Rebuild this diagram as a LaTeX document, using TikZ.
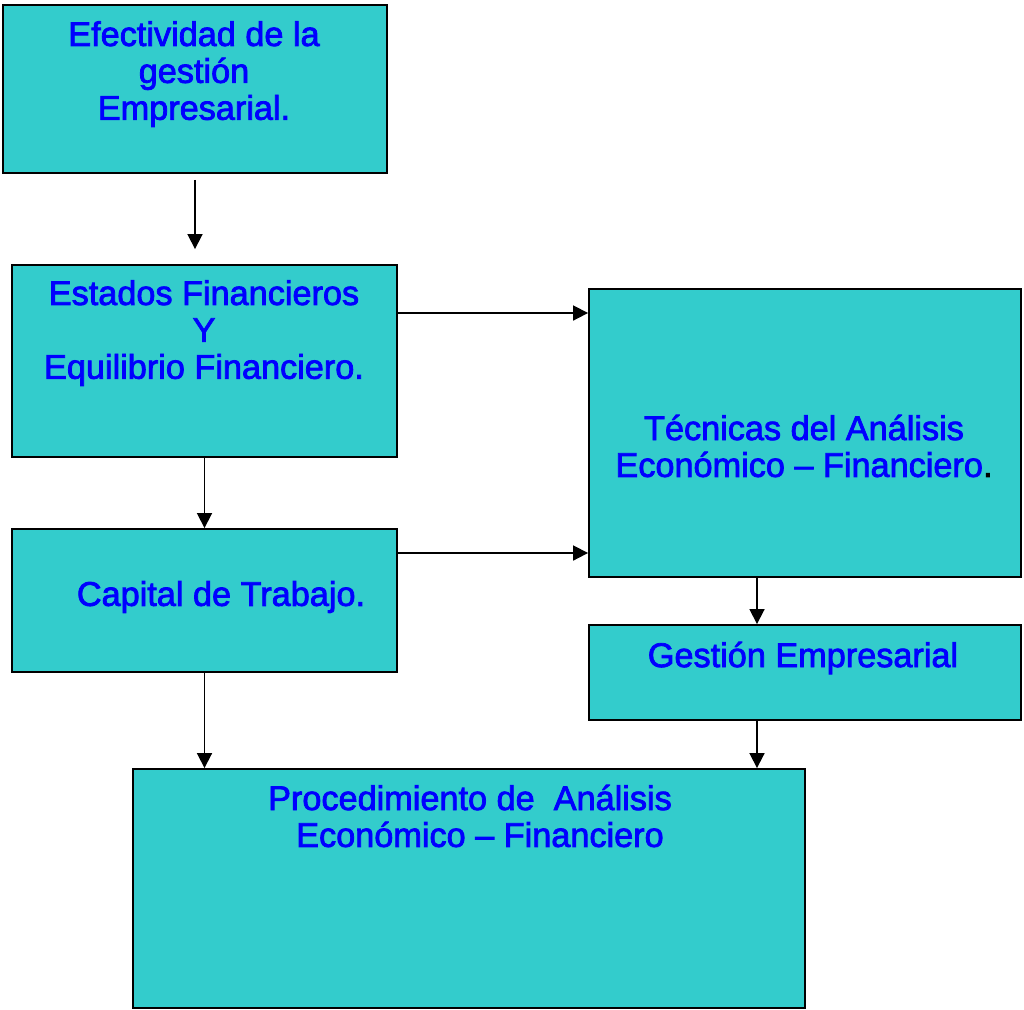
\documentclass[tikz,border=0pt]{standalone}
\usepackage{fontspec}
\setmainfont{Liberation Sans}
\usetikzlibrary{arrows.meta,calc}
\definecolor{boxfill}{HTML}{33CCCC}
\definecolor{txtblue}{HTML}{0000FF}
\begin{document}
\begin{tikzpicture}[x=0.02cm,y=-0.02cm,
  box/.style={draw=black, line width=1.1pt, fill=boxfill, rectangle, inner sep=0pt},
  lbl/.style={text=txtblue, align=center, inner sep=0pt, font=\fontsize{19.5}{21}\selectfont\addfontfeature{FakeBold=2.2}},
  arr/.style={draw=black, line width=1pt, -{Triangle[length=0.3cm,width=0.3cm]}}]
\useasboundingbox (0,0) rectangle (1024,1009);
% boxes
\node[box, minimum width=7.68cm, minimum height=3.36cm] (b1) at (195,89) {};
\node[box, minimum width=7.7cm, minimum height=3.84cm] (b2) at (204.5,361) {};
\node[box, minimum width=8.64cm, minimum height=5.76cm] (b3) at (805,433) {};
\node[box, minimum width=7.7cm, minimum height=2.86cm] (b4) at (204.5,600.5) {};
\node[box, minimum width=8.64cm, minimum height=1.9cm] (b5) at (805,672.5) {};
\node[box, minimum width=13.44cm, minimum height=4.78cm] (b6) at (469,888.5) {};
% labels
\node[lbl] (t1) at (194,74) {Efectividad de la\\gestión\\Empresarial.};
\node[lbl] (t2) at (204,333) {Estados Financieros\\Y\\Equilibrio Financiero.};
\node[lbl] (t3) at (804,446) {Técnicas del Análisis\\Económico – Financiero{\color{black}.}};
\node[lbl] (t4) at (221,597) {Capital de Trabajo.};
\node[lbl] (t5) at (803,658) {Gestión Empresarial};
\node[lbl] (t6) at (470,816) {Procedimiento de \ Análisis\\\hspace*{0.4cm}Económico – Financiero};
% helper coordinates
\coordinate (r1) at (500,313);
\coordinate (r2) at (500,553);
\coordinate (c1) at (757,700);
% connectors
\draw[arr, shorten <=0.12cm, shorten >=0.3cm] (b1.south) -- (b1.south |- b2.north);
\draw[arr] (b2.east |- r1) -- (b3.west |- r1);
\draw[arr] (b2.south) -- (b4.north);
\draw[arr] (b4.east |- r2) -- (b3.west |- r2);
\draw[arr] (b3.south -| c1) -- (b5.north -| c1);
\draw[arr] (b4.south) -- (b4.south |- b6.north);
\draw[arr] (b5.south -| c1) -- (b6.north -| c1);
\end{tikzpicture}
\end{document}
